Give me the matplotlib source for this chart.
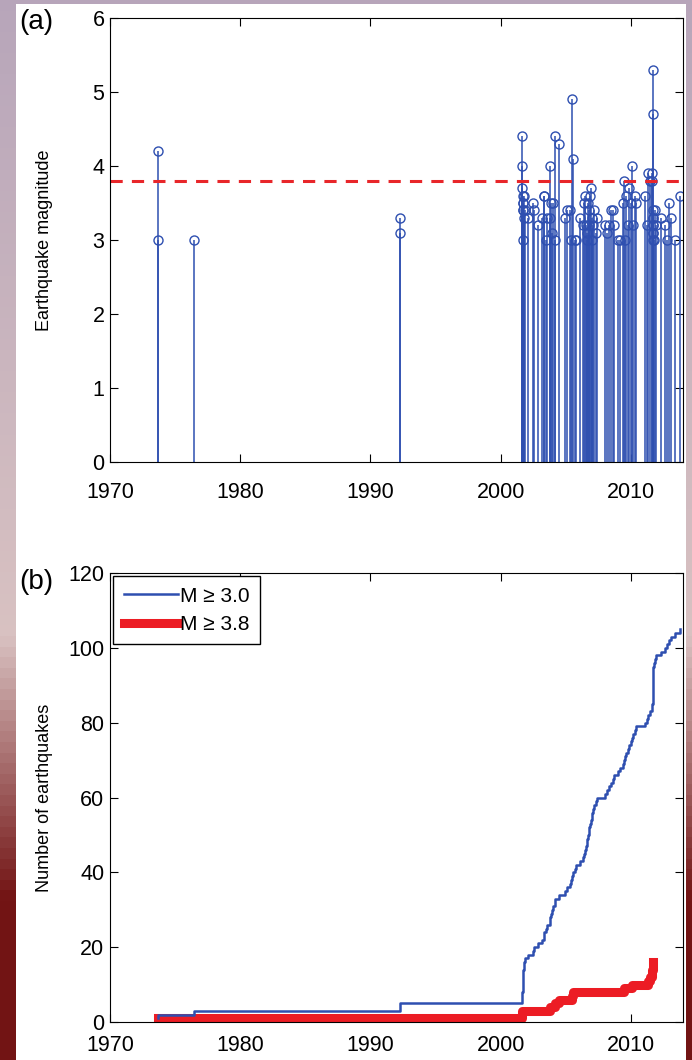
import matplotlib.pyplot as plt
import numpy as np
from matplotlib.patches import Rectangle

plt.rcParams['font.family'] = ['Liberation Sans', 'DejaVu Sans']

# event dates (decimal year) and magnitudes
event_year = [
    1973.65, 1973.65, 1976.45, 1992.3, 1992.3,
    2001.62, 2001.64, 2001.66, 2001.68, 2001.69, 2001.70, 2001.71, 2001.72, 2001.74, 2001.76, 2001.78,
    2001.9, 2002.1, 2002.45, 2002.55, 2002.9,
    2003.2, 2003.3, 2003.35, 2003.45, 2003.55, 2003.75, 2003.8, 2003.85,
    2003.95, 2004.05, 2004.15, 2004.2, 2004.5, 2004.9, 2005.1,
    2005.3, 2005.4, 2005.5, 2005.52, 2005.7, 2005.8, 2006.1,
    2006.3, 2006.4, 2006.5, 2006.55, 2006.6, 2006.65, 2006.7, 2006.75, 2006.8, 2006.85,
    2006.95, 2007.0, 2007.05, 2007.1, 2007.2, 2007.3, 2007.4, 2008.0,
    2008.2, 2008.3, 2008.5, 2008.6, 2008.7, 2009.0, 2009.2, 2009.4,
    2009.5, 2009.55, 2009.65, 2009.75, 2009.85, 2010.0, 2010.05, 2010.15, 2010.3, 2010.4,
    2011.1, 2011.2, 2011.3, 2011.5, 2011.62, 2011.64,
    2011.66, 2011.66, 2011.67, 2011.67, 2011.68, 2011.68, 2011.69, 2011.69, 2011.7, 2011.72,
    2011.8, 2011.85, 2011.9, 2012.3, 2012.6, 2012.75, 2012.95, 2013.05, 2013.4, 2013.8,
]
event_mag = [
    4.2, 3.0, 3.0, 3.3, 3.1,
    4.4, 4.0, 3.7, 3.6, 3.5, 3.4, 3.0, 3.5, 3.4, 3.6, 3.3,
    3.4, 3.3, 3.5, 3.4, 3.2,
    3.3, 3.6, 3.6, 3.0, 3.3, 4.0, 3.3, 3.5,
    3.1, 3.5, 4.4, 3.0, 4.3, 3.3, 3.4,
    3.4, 3.0, 4.9, 4.1, 3.0, 3.0, 3.3,
    3.2, 3.5, 3.6, 3.2, 3.1, 3.0, 3.5, 3.2, 3.4, 3.6,
    3.7, 3.0, 3.3, 3.2, 3.4, 3.1, 3.3, 3.2,
    3.1, 3.2, 3.4, 3.4, 3.2, 3.0, 3.0, 3.5,
    3.8, 3.0, 3.6, 3.2, 3.7, 3.5, 4.0, 3.2, 3.6, 3.5,
    3.6, 3.2, 3.9, 3.8, 3.9, 3.8,
    3.4, 3.3, 3.2, 3.1, 3.0, 3.3, 3.2, 3.1, 5.3, 4.7,
    3.0, 3.4, 3.2, 3.3, 3.2, 3.0, 3.5, 3.3, 3.0, 3.6,
]
threshold = 3.8
x_ticks = [1970, 1980, 1990, 2000, 2010]

years = np.array(event_year)
mags = np.array(event_mag)
blue = '#2e4fb0'

fig = plt.figure(figsize=(6.92, 10.6), dpi=100)

# slide background behind the white panel
bg = fig.add_axes([0, 0, 1, 1], zorder=-10)
grad = np.zeros((100, 1, 3))
top_c = np.array([0.72, 0.65, 0.73])
mid_c = np.array([0.85, 0.76, 0.76])
bot_c = np.array([0.45, 0.08, 0.08])
for i in range(100):
    t = i / 99
    if t < 0.6:
        grad[i, 0] = top_c + (mid_c - top_c) * t / 0.6
    elif t < 0.85:
        grad[i, 0] = mid_c + (bot_c - mid_c) * (t - 0.6) / 0.25
    else:
        grad[i, 0] = bot_c
bg.imshow(grad, aspect='auto', extent=[0, 1, 0, 1])
bg.set_xlim(0, 1)
bg.set_ylim(0, 1)
bg.axis('off')
fig.add_artist(Rectangle((16 / 692, 0), 670 / 692, 1 - 4 / 1060,
                         transform=fig.transFigure, facecolor='white',
                         edgecolor='none', zorder=-5))

# (a) stem plot of magnitudes
ax1 = fig.add_axes([0.159, 0.564, 0.828, 0.419])
ml, sl, bl = ax1.stem(years, mags, linefmt='-', markerfmt='o', basefmt=' ')
plt.setp(sl, color=blue, linewidth=1.1)
plt.setp(ml, markerfacecolor='none', markeredgecolor=blue, markersize=6.5,
         markeredgewidth=1.0)
ax1.axhline(threshold, color='#e8262a', linestyle=(0, (4, 3)), linewidth=2.2)
ax1.set_xlim(1970, 2014)
ax1.set_ylim(0, 6)
ax1.set_xticks(x_ticks)
ax1.set_yticks(range(0, 7))
ax1.set_ylabel('Earthquake magnitude', fontsize=13)
ax1.yaxis.set_label_coords(-0.100, 0.5)
ax1.tick_params(direction='in', top=True, right=True, length=6, labelsize=15.5)
ax1.tick_params(axis='x', pad=14)
ax1.tick_params(axis='y', pad=4)
fig.text(0.028, 0.979, '(a)', fontsize=20, va='center', ha='left')

# (b) cumulative counts
ax2 = fig.add_axes([0.159, 0.0358, 0.828, 0.4236])
order = np.argsort(years, kind='stable')
ys = years[order]
ms = mags[order]
cum_all = np.arange(1, len(ys) + 1)
big = ys[ms >= threshold]
cum_big = np.arange(1, len(big) + 1)
ax2.plot(ys, cum_all, drawstyle='steps-post', color=blue, linewidth=1.8,
         label='M ≥ 3.0', zorder=3)
ax2.plot(big, cum_big, drawstyle='steps-post', color='#ec1c24', linewidth=6.5,
         label='M ≥ 3.8', zorder=2)
ax2.set_xlim(1970, 2014)
ax2.set_ylim(0, 120)
ax2.set_xticks(x_ticks)
ax2.set_yticks(range(0, 121, 20))
ax2.set_ylabel('Number of earthquakes', fontsize=13)
ax2.yaxis.set_label_coords(-0.100, 0.5)
ax2.tick_params(direction='in', top=True, right=True, length=6, labelsize=15.5)
ax2.tick_params(axis='x', pad=9)
ax2.tick_params(axis='y', pad=4)
leg = ax2.legend(loc='upper left', fontsize=15, fancybox=False,
                 edgecolor='black', framealpha=1, handlelength=2.6,
                 handletextpad=0.1, borderaxespad=0.15, labelspacing=0.45,
                 borderpad=0.5)
leg.get_frame().set_linewidth(1.0)
fig.text(0.028, 0.451, '(b)', fontsize=20, va='center', ha='left')

fig.savefig('out.png', dpi=100)
